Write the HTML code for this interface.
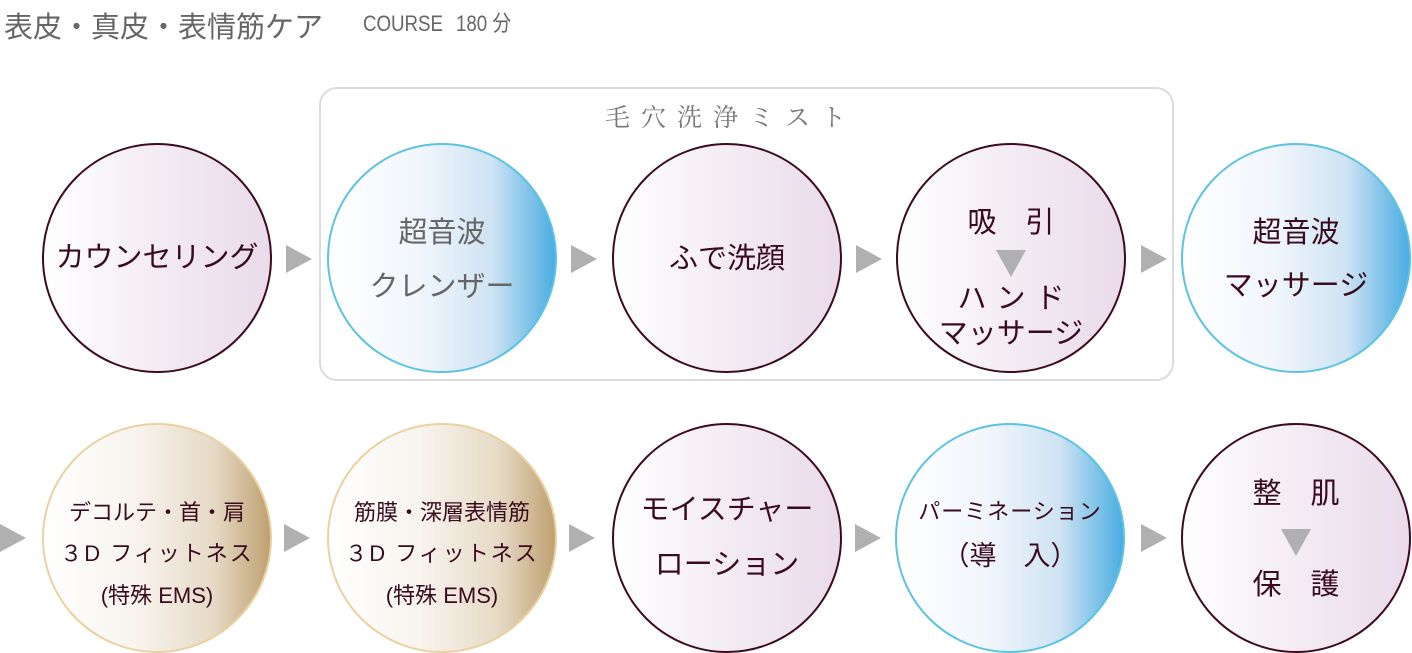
<!DOCTYPE html>
<html><head><meta charset="utf-8">
<style>
*{margin:0;padding:0;box-sizing:border-box}
body{width:1412px;height:653px;background:#fff;position:relative;overflow:hidden;font-family:"Liberation Sans","Noto Sans CJK JP",sans-serif;color:#3a0a1e}
.c{position:absolute;width:230px;height:230px;border-radius:50%;}
.p{border:2px solid #3d0a1f;background:linear-gradient(90deg,#fff 0%,#f3ecf3 50%,#eadbea 100%)}
.b{border:2px solid #5cc3e3;background:linear-gradient(90deg,#fff 0%,#f1f6fc 40%,#cfe3f3 72%,#4aade2 100%)}
.g{border:2px solid #ecd1a0;background:linear-gradient(90deg,#fff 0%,#f8f4ee 40%,#e6dac6 75%,#bfa171 100%)}
.t{position:absolute;width:260px;text-align:center;white-space:nowrap;line-height:1}
.a{position:absolute;width:0;height:0;border-top:14px solid transparent;border-bottom:14px solid transparent;border-left:26px solid #b0b0b0}
.d{position:absolute;width:0;height:0;border-left:15px solid transparent;border-right:15px solid transparent;border-top:27px solid #b0b0b0}
.h{position:absolute;top:13px;font-size:22px;line-height:22px;color:#666;white-space:nowrap;transform:scaleX(0.85);transform-origin:left}
</style></head><body>
<div style="position:absolute;left:4px;top:4px;font-size:29px;color:#666;white-space:nowrap">表皮・真皮・表情筋ケア</div>
<div class="h" style="left:363px">COURSE</div>
<div class="h" style="left:456px">180 分</div>

<div style="position:absolute;left:319px;top:87px;width:855px;height:294px;border:2px solid #dcdcdc;border-radius:18px"></div>
<div style="position:absolute;left:605px;top:98px;font-size:25px;color:#777;letter-spacing:11px;font-family:'Liberation Serif','Noto Serif CJK SC',serif;white-space:nowrap">毛穴洗浄ミスト</div>

<!-- row 1 -->
<div class="c p" style="left:42px;top:143px"></div>
<div class="c b" style="left:327px;top:143px"></div>
<div class="c p" style="left:612px;top:143px"></div>
<div class="c p" style="left:896px;top:143px"></div>
<div class="c b" style="left:1181px;top:143px"></div>

<div class="a" style="left:286px;top:245px"></div>
<div class="a" style="left:571px;top:245px"></div>
<div class="a" style="left:856px;top:245px"></div>
<div class="a" style="left:1141px;top:245px"></div>

<div class="t" style="left:27px;top:244px;font-size:29px">カウンセリング</div>
<div class="t" style="left:312px;top:219px;font-size:29px;color:#666">超音波</div>
<div class="t" style="left:312px;top:273px;font-size:29px;color:#666">クレンザー</div>
<div class="t" style="left:597px;top:245px;font-size:29px">ふで洗顔</div>
<div class="t" style="left:881px;top:209px;font-size:29px">吸&emsp;引</div>
<div class="d" style="left:996px;top:250px"></div>
<div class="t" style="left:881px;top:285px;font-size:29px;letter-spacing:10px;padding-left:10px">ハンド</div>
<div class="t" style="left:881px;top:320px;font-size:29px">マッサージ</div>
<div class="t" style="left:1166px;top:219px;font-size:29px">超音波</div>
<div class="t" style="left:1166px;top:272px;font-size:29px">マッサージ</div>

<!-- row 2 -->
<div class="c g" style="left:42px;top:423px"></div>
<div class="c g" style="left:327px;top:423px"></div>
<div class="c p" style="left:612px;top:423px"></div>
<div class="c b" style="left:895px;top:423px"></div>
<div class="c p" style="left:1181px;top:423px"></div>

<div class="a" style="left:0px;top:524px"></div>
<div class="a" style="left:284px;top:524px"></div>
<div class="a" style="left:569px;top:524px"></div>
<div class="a" style="left:855px;top:524px"></div>
<div class="a" style="left:1141px;top:524px"></div>

<div class="t" style="left:27px;top:502px;font-size:22px">デコルテ・首・肩</div>
<div class="t" style="left:27px;top:543px;font-size:22px;letter-spacing:2px">３D フィットネス</div>
<div class="t" style="left:27px;top:585px;font-size:22px">(特殊 EMS)</div>
<div class="t" style="left:312px;top:502px;font-size:22px">筋膜・深層表情筋</div>
<div class="t" style="left:312px;top:543px;font-size:22px;letter-spacing:2px">３D フィットネス</div>
<div class="t" style="left:312px;top:585px;font-size:22px">(特殊 EMS)</div>
<div class="t" style="left:597px;top:496px;font-size:29px">モイスチャー</div>
<div class="t" style="left:597px;top:551px;font-size:29px">ローション</div>
<div class="t" style="left:880px;top:501px;font-size:22px;letter-spacing:1px">パーミネーション</div>
<div class="t" style="left:880px;top:543px;font-size:27px">（導&emsp;入）</div>
<div class="t" style="left:1166px;top:480px;font-size:29px">整&emsp;肌</div>
<div class="d" style="left:1281px;top:529px"></div>
<div class="t" style="left:1166px;top:571px;font-size:29px">保&emsp;護</div>
</body></html>
